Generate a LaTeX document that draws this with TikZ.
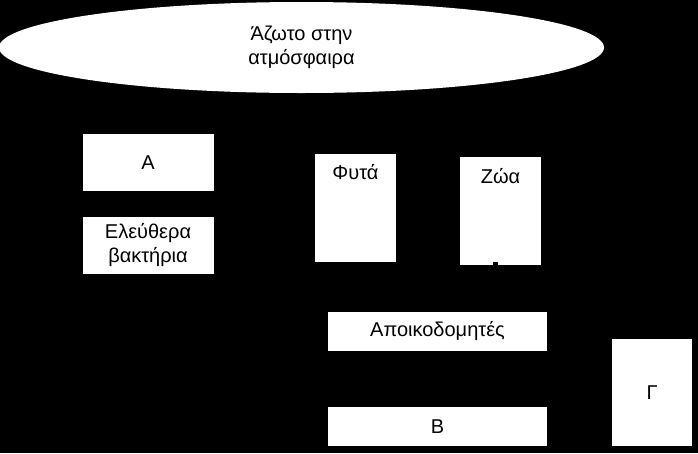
\documentclass[tikz,border=0pt]{standalone}
\usepackage{fontspec}
\setmainfont{Liberation Sans}
\usetikzlibrary{shapes.geometric}

\tikzset{
  box/.style={draw=none, fill=white, rectangle, inner sep=0pt, align=center},
  cloud/.style={draw=none, fill=white, ellipse, inner sep=0pt, align=center},
}

\begin{document}
\begin{tikzpicture}[x=1pt, y=-1pt, font=\fontsize{20}{24}\selectfont]
        % Pozadí
        \fill[black] (0,0) rectangle (698,453);
        \useasboundingbox (0,0) rectangle (698,453);

        % Atmosféra
        \node[cloud, minimum width=605pt, minimum height=91pt] (atm) at (301.5, 47.5) {Άζωτο στην\\ατμόσφαιρα};

        % Bakterie
        \node[box, minimum width=131pt, minimum height=57pt] (a) at (148, 162.5) {Α};
        \node[box, minimum width=131pt, minimum height=57pt] (bakt) at (148, 245.5) {Ελεύθερα\\βακτήρια};

        % Rostliny a zvířata
        \node[box, minimum width=81pt, minimum height=108pt] (fyta) at (355.5, 208) {};
        \node (fytatxt) at (355.5, 172) {Φυτά};
        \node[box, minimum width=81pt, minimum height=108pt] (zoa) at (500.5, 211) {};
        \node (zoatxt) at (500.5, 176) {Ζώα};

        % Rozkladači
        \node[box, minimum width=219pt, minimum height=39pt] (apo) at (437.5, 331.5) {Αποικοδομητές};
        \node[box, minimum width=219pt, minimum height=39pt] (b) at (437.5, 426.5) {Β};
        \node[box, minimum width=80pt, minimum height=107pt] (g) at (652, 392.5) {Γ};

        % Šipka
        \draw[black, line width=5pt] ([xshift=-5pt, yshift=3pt]zoa.south) -- ([xshift=-5pt]zoa.south |- apo.north);
    \end{tikzpicture}
\end{document}
